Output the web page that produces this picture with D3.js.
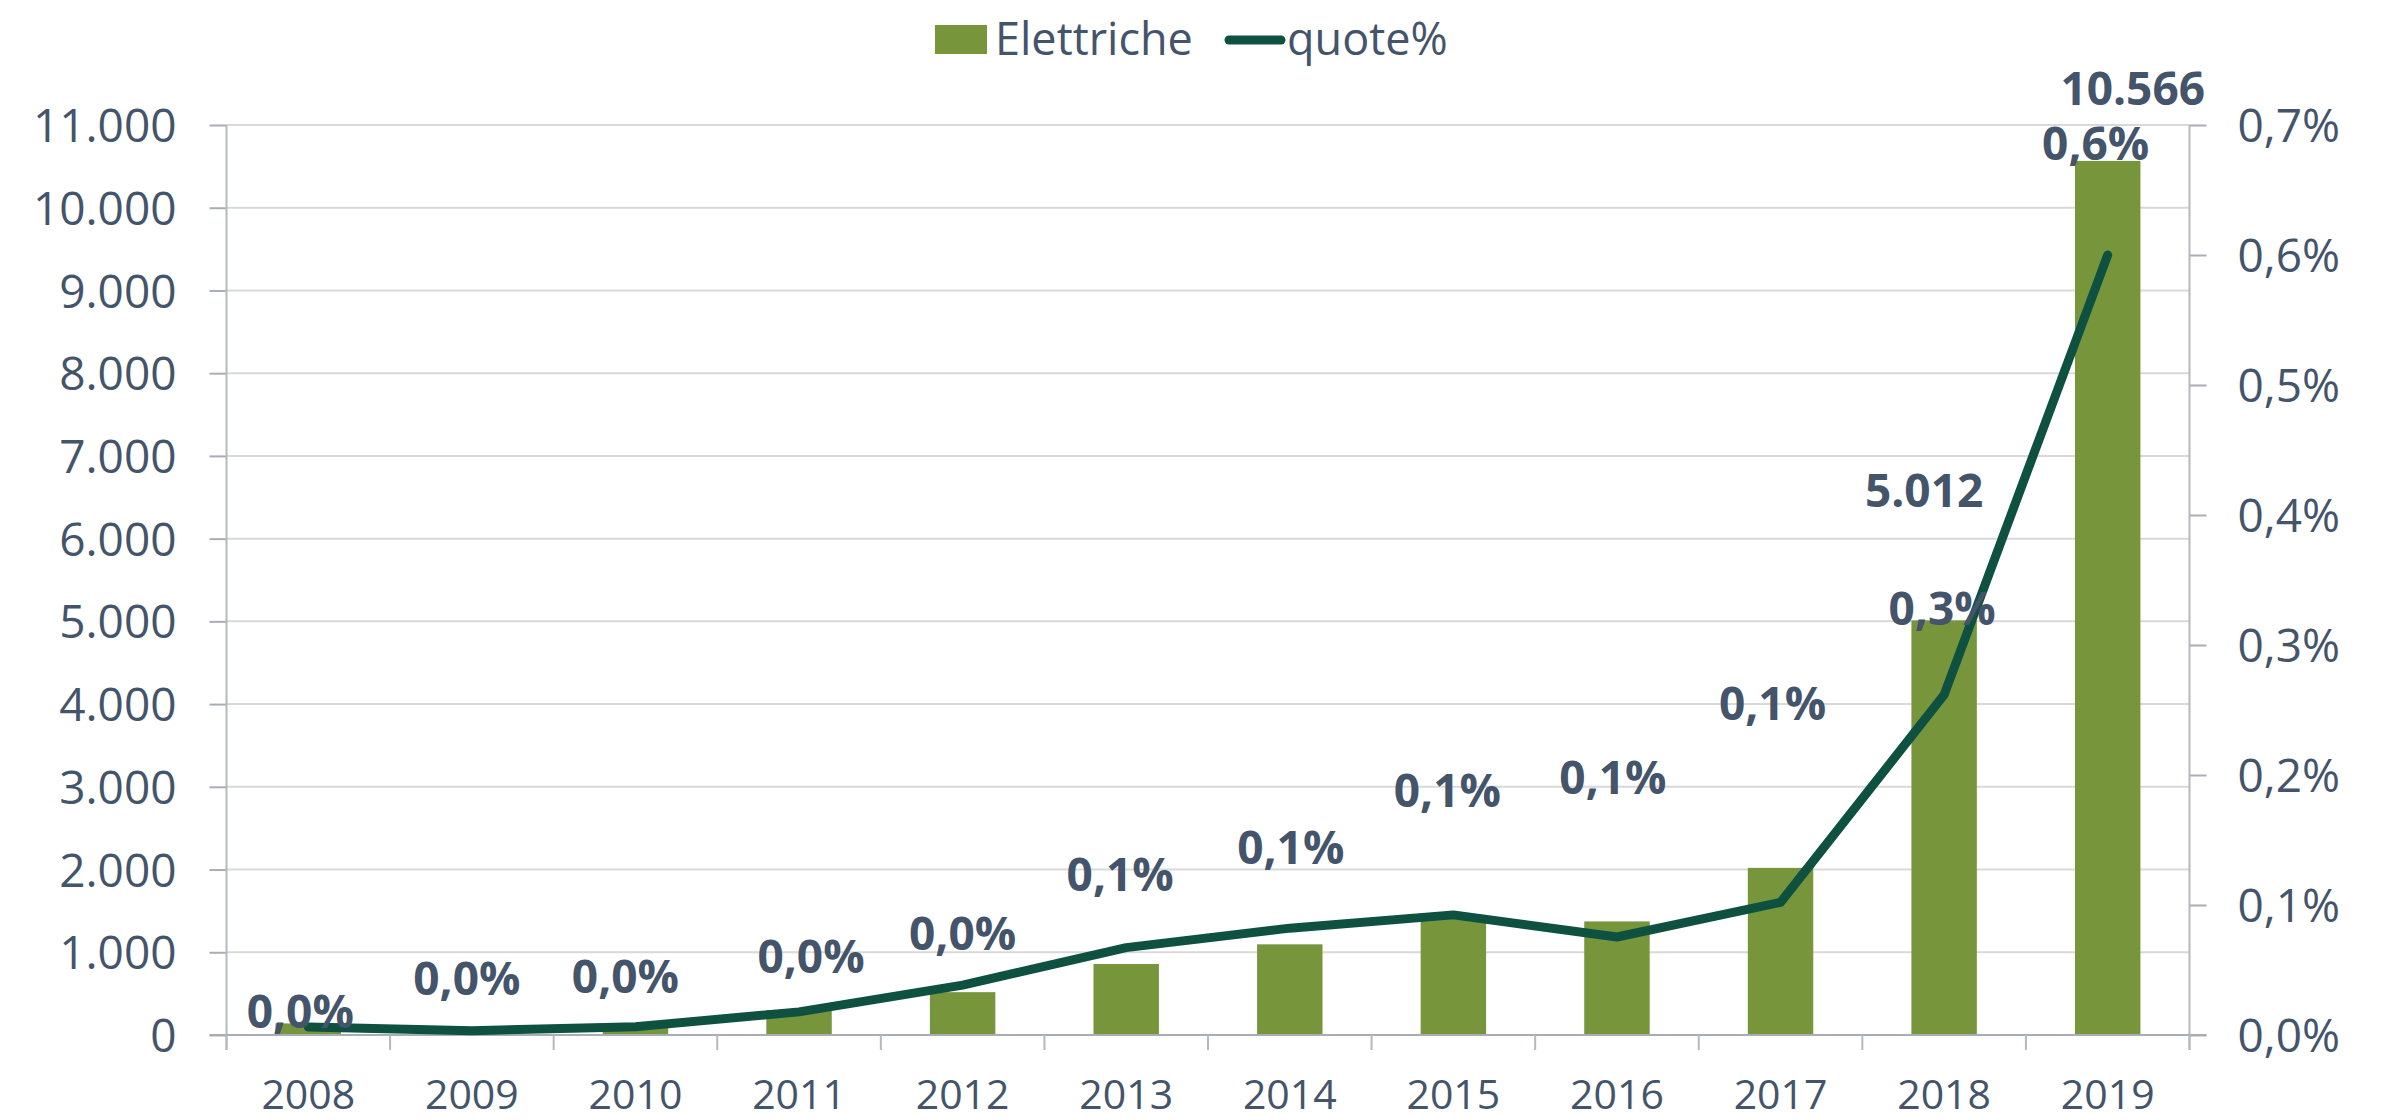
<!DOCTYPE html>
<html>
<head>
<meta charset="utf-8">
<script src="https://d3js.org/d3.v7.min.js"></script>
<style>
  body { margin: 0; background: #fff; }
  text { font-family: "Open Sans", "Noto Sans", sans-serif; fill: #44546a; }
</style>
</head>
<body>
<script>
// dati
var years = [2008, 2009, 2010, 2011, 2012, 2013, 2014, 2015, 2016, 2017, 2018, 2019];
var elettriche = [140, 60, 100, 302, 518, 858, 1096, 1420, 1373, 2020, 5012, 10566];
var quote = [0.0061, 0.0033, 0.0063, 0.0178, 0.0384, 0.0672, 0.0822, 0.0924, 0.0754, 0.102, 0.2617, 0.600]; // in %
var seriesNames = ["Elettriche", "quote%"];
var barTicks = d3.range(0, 11001, 1000);
var pctTicks = [0, 0.1, 0.2, 0.3, 0.4, 0.5, 0.6, 0.7];
var barLabelYears = [2018, 2019];

// spostamenti manuali delle etichette (px)
var pctLabelNudge = [[-8, 1], [-5, -36], [-10, -34], [12, -39], [0, -35], [-6, -57],
                     [1, -64], [-6, -108], [-4, -143], [-8, -182], [-2, -70], [-12, -95]];
var barLabelNudge = { 2018: [-20, -113], 2019: [25, -56] };

var W = 2398, H = 1120;
var plotLeft = 226.5, plotRight = 2189.5, plotTop = 125, plotBottom = 1035;
var green = "#77963c", dark = "#0f5141", txt = "#44546a";

var it = d3.formatLocale({ decimal: ",", thousands: ".", grouping: [3], currency: ["€", ""] });
var fmtNum = it.format(",d");
var fmtPct = function(v) { return it.format(".1f")(v) + "%"; };

var svg = d3.select("body").append("svg")
  .attr("width", W).attr("height", H);

var x = d3.scaleBand().domain(years).range([plotLeft, plotRight]).padding(0);
var yBar = d3.scaleLinear().domain([0, 11000]).range([plotBottom, plotTop]);
var yPct = d3.scaleLinear().domain([0, 0.7]).range([plotBottom, plotTop]);
var barW = x.bandwidth() * 0.4;

// griglia
svg.append("g").selectAll("line").data(barTicks.slice(1)).enter().append("line")
  .attr("x1", plotLeft).attr("x2", plotRight)
  .attr("y1", function(d) { return yBar(d); }).attr("y2", function(d) { return yBar(d); })
  .attr("stroke", "#d9d9d9").attr("stroke-width", 2);

// barre
svg.append("g").selectAll("rect").data(years).enter().append("rect")
  .attr("x", function(d) { return x(d) + (x.bandwidth() - barW) / 2; })
  .attr("width", barW)
  .attr("y", function(d, i) { return yBar(elettriche[i]); })
  .attr("height", function(d, i) { return plotBottom - yBar(elettriche[i]); })
  .attr("fill", green);

// asse sinistro
var gl = svg.append("g").attr("transform", "translate(" + plotLeft + ",0)")
  .call(d3.axisLeft(yBar).tickValues(barTicks).tickFormat(fmtNum).tickSize(17).tickPadding(33).tickSizeOuter(0));
gl.select(".domain").remove();
gl.selectAll(".tick line").attr("stroke", "#a9adb5").attr("stroke-width", 2);
gl.selectAll(".tick text").style("font-size", "46px").attr("dy", "0.36em").style("fill", txt);
svg.append("line").attr("x1", plotLeft).attr("x2", plotLeft).attr("y1", plotTop).attr("y2", plotBottom + 15)
  .attr("stroke", "#b4b8bf").attr("stroke-width", 2);

// asse destro
var gr = svg.append("g").attr("transform", "translate(" + plotRight + ",0)")
  .call(d3.axisRight(yPct).tickValues(pctTicks).tickFormat(fmtPct).tickSize(17).tickPadding(31).tickSizeOuter(0));
gr.select(".domain").remove();
gr.selectAll(".tick line").attr("stroke", "#a9adb5").attr("stroke-width", 2);
gr.selectAll(".tick text").style("font-size", "46px").attr("dy", "0.36em").style("fill", txt);
svg.append("line").attr("x1", plotRight).attr("x2", plotRight).attr("y1", plotTop).attr("y2", plotBottom + 15)
  .attr("stroke", "#b4b8bf").attr("stroke-width", 2);

// asse x
var gb = svg.append("g").attr("transform", "translate(0," + plotBottom + ")")
  .call(d3.axisBottom(x).tickSize(0).tickPadding(45));
gb.select(".domain").remove();
gb.selectAll(".tick text").style("font-size", "41px").style("fill", txt);
svg.append("line").attr("x1", plotLeft - 17).attr("x2", plotRight + 17).attr("y1", plotBottom).attr("y2", plotBottom)
  .attr("stroke", "#a9adb5").attr("stroke-width", 2);
svg.append("g").selectAll("line").data(years.concat(["end"])).enter().append("line")
  .attr("x1", function(d) { return d === "end" ? plotRight : x(d); })
  .attr("x2", function(d) { return d === "end" ? plotRight : x(d); })
  .attr("y1", plotBottom).attr("y2", plotBottom + 15)
  .attr("stroke", "#b4b8bf").attr("stroke-width", 2);

// linea quote%
var line = d3.line()
  .x(function(d, i) { return x(years[i]) + x.bandwidth() / 2; })
  .y(function(d) { return yPct(d); });
svg.append("path").datum(quote).attr("d", line)
  .attr("fill", "none").attr("stroke", dark).attr("stroke-width", 9)
  .attr("stroke-linejoin", "round").attr("stroke-linecap", "round");

// etichette percentuali
svg.append("g").selectAll("text").data(quote).enter().append("text")
  .attr("x", function(d, i) { return x(years[i]) + x.bandwidth() / 2 + pctLabelNudge[i][0]; })
  .attr("y", function(d, i) { return yPct(d) + pctLabelNudge[i][1]; })
  .attr("text-anchor", "middle")
  .style("font-size", "46px").style("font-weight", "bold")
  .text(function(d) { return fmtPct(d); });

// etichette barre
svg.append("g").selectAll("text").data(barLabelYears).enter().append("text")
  .attr("x", function(d) { return x(d) + x.bandwidth() / 2 + barLabelNudge[d][0]; })
  .attr("y", function(d) { return yBar(elettriche[years.indexOf(d)]) + barLabelNudge[d][1]; })
  .attr("text-anchor", "middle")
  .style("font-size", "46px").style("font-weight", "bold")
  .text(function(d) { return fmtNum(elettriche[years.indexOf(d)]); });

// legenda
var lg = svg.append("g");
lg.append("rect").attr("x", 935).attr("y", 25).attr("width", 52).attr("height", 29).attr("fill", green);
lg.append("text").attr("x", 995).attr("y", 55).style("font-size", "45px").text(seriesNames[0]);
lg.append("line").attr("x1", 1229).attr("x2", 1281).attr("y1", 40).attr("y2", 40)
  .attr("stroke", dark).attr("stroke-width", 9).attr("stroke-linecap", "round");
lg.append("text").attr("x", 1287).attr("y", 55).style("font-size", "45px").text(seriesNames[1]);
</script>
</body>
</html>
